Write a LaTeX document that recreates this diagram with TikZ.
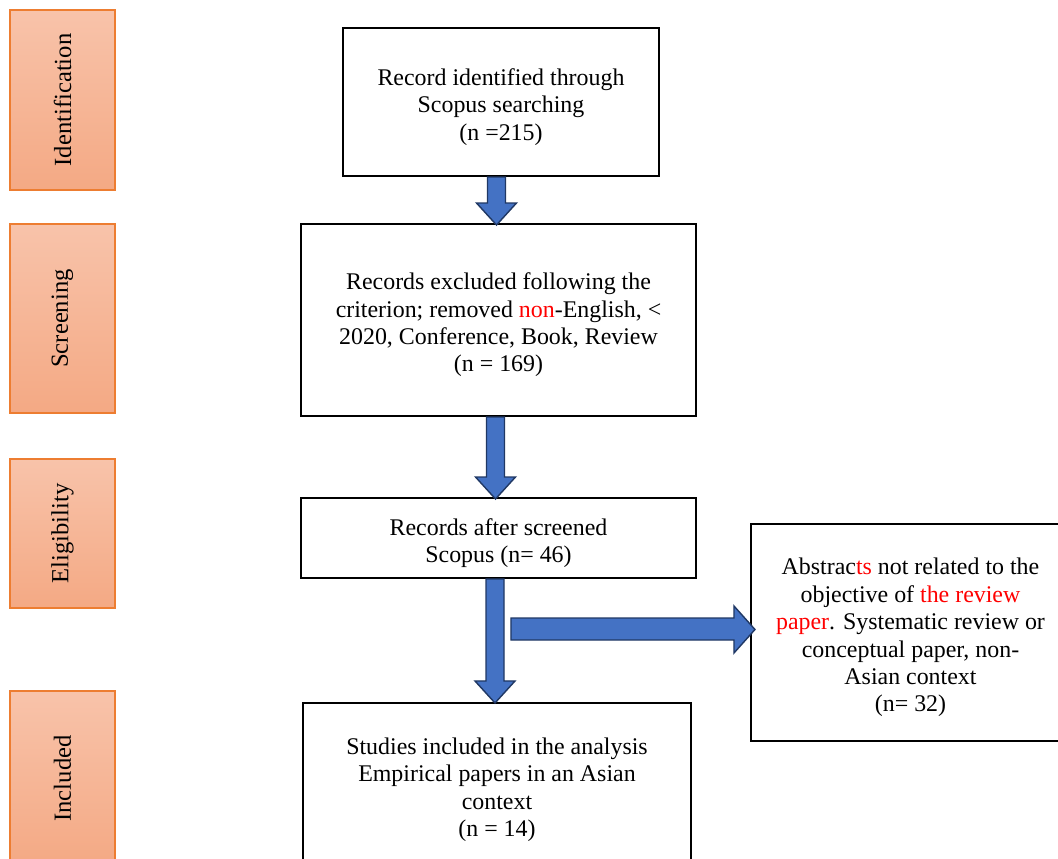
\documentclass[tikz,border=0pt]{standalone}
\usepackage{fontspec}
\setmainfont{Liberation Serif}
\usepackage{xcolor}
\usetikzlibrary{calc}

\definecolor{arrowblue}{HTML}{4472C4}
\definecolor{arrowedge}{HTML}{203864}
\definecolor{phaseedge}{HTML}{ED7D31}
\definecolor{phasetop}{HTML}{F8C3AA}
\definecolor{phasebot}{HTML}{F4A984}

\newcommand{\toppad}{\rule{0pt}{19pt}}

\begin{document}
\begin{tikzpicture}[
  x=0.025cm, y=-0.025cm,
  box/.style={draw, line width=1.4pt, align=center, inner sep=0pt,
    font=\fontsize{17}{19.5}\selectfont},
  phase/.style={draw=phaseedge, line width=0.8pt, rotate=90,
    top color=phasetop, bottom color=phasebot, minimum height=2.625cm,
    inner sep=0pt, font=\fontsize{17.5}{19.5}\selectfont},
  blockarr/.style={draw=arrowedge, line width=1pt, fill=arrowblue, line join=miter},
]
  \clip (0,0) rectangle (1058,859);

  % Phase bars
  \node[phase, minimum width=4.5cm] (idbar) at (62.5,100) {Identification};
  \node[phase, minimum width=4.725cm] (scbar) at (62.5,318.5) {Screening};
  \node[phase, minimum width=3.725cm] (elbar) at (62.5,533.5) {Eligibility};
  \node[phase, minimum width=4.375cm] (inbar) at (62.5,778.5) {Included};

  % Flow boxes
  \node[box, minimum width=7.9cm, minimum height=3.7cm] (rec) at (501,102)
    {\toppad Record identified through\\Scopus searching\\(n =215)};
  \node[box, minimum width=9.875cm, minimum height=4.8cm] (scr) at (498.5,320)
    {\toppad Records excluded following the\\criterion; removed \textcolor{red}{non}-English, <\\2020, Conference, Book, Review\\(n = 169)};
  \node[box, minimum width=9.875cm, minimum height=2cm] (elg) at (498.5,538)
    {\toppad Records after screened\\Scopus (n= 46)};
  \node[box, minimum width=7.975cm, minimum height=5.425cm] (abs) at (910.5,632.5)
    {\toppad Abstrac\textcolor{red}{ts} not related to the\\objective of \textcolor{red}{the review}\\\textcolor{red}{paper}. Systematic review or\\conceptual paper, non-\\Asian context\\(n= 32)};
  \node[box, minimum width=9.7cm, minimum height=4.075cm] (inc) at (497,784.5)
    {\toppad Studies included in the analysis\\Empirical papers in an Asian\\context\\(n = 14)};

  % Block arrows down
  \foreach \a/\dx/\l in {rec/-13.5/26, scr/-12/60, elg/-12.5/102}
    \draw[blockarr] ($(\a.south)+(\dx,0)$) -- ++(18,0) -- ++(0,\l) -- ++(11,0)
      -- ++(-20,22) -- ++(-20,-22) -- ++(11,0) -- cycle;

  % Block arrow to excluded abstracts
  \draw[blockarr] ($(abs.west)+(-239,-14.5)$) -- ++(223,0) -- ++(0,-12)
    -- ++(21,23.5) -- ++(-21,23.5) -- ++(0,-13) -- ++(-223,0) -- cycle;
\end{tikzpicture}
\end{document}
